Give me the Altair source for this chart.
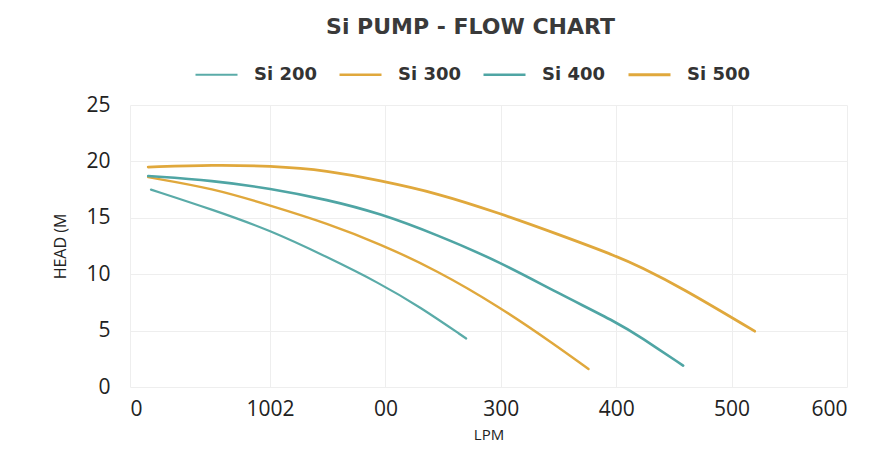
import altair as alt
import pandas as pd

series = ["Si 200", "Si 300", "Si 400", "Si 500"]
colors = ["#5aaba8", "#e0a83c", "#4fa5a4", "#e0a83c"]
widths = [2.2, 2.8, 3.0, 3.2]

si200_lpm = [15, 59.5, 100, 150, 195, 230, 270]
si200_head = [17.5, 15.7, 13.9, 11.5, 9.2, 7.1, 4.3]

si300_lpm = [13, 59.5, 100, 150, 195, 244.5, 299, 345.5, 376]
si300_head = [18.6, 17.6, 16.1, 14.5, 12.7, 10.35, 7.1, 3.85, 1.6]

si400_lpm = [13, 59.5, 100, 150, 195, 244.5, 299, 348, 403, 420.6, 458]
si400_head = [18.7, 18.3, 17.6, 16.6, 15.4, 13.5, 11.1, 8.4, 5.6, 4.45, 1.9]

si500_lpm = [13, 59.5, 100, 150, 195, 244.5, 299, 348, 403, 420.6, 455, 520]
si500_head = [19.5, 19.7, 19.6, 19.2, 18.3, 17.2, 15.4, 13.6, 11.5, 10.65, 8.9, 4.95]

x_ticks = [0, 100, 200, 300, 400, 500, 600]
y_ticks = [0, 5, 10, 15, 20, 25]

rows = []
for name, xs, ys in [
    ("Si 200", si200_lpm, si200_head),
    ("Si 300", si300_lpm, si300_head),
    ("Si 400", si400_lpm, si400_head),
    ("Si 500", si500_lpm, si500_head),
]:
    for i, (x, y) in enumerate(zip(xs, ys)):
        rows.append({"series": name, "lpm": x, "head": y, "order": i})
df = pd.DataFrame(rows)

chart = (
    alt.Chart(df)
    .mark_line(interpolate="basis", strokeCap="round")
    .encode(
        x=alt.X(
            "lpm:Q",
            scale=alt.Scale(domain=[0, 100, 600], range=[0, 140, 717], nice=False),
            axis=alt.Axis(
                values=x_ticks,
                title="LPM",
                labelExpr="datum.value == 100 ? '1002' : datum.value == 200 ? '00' : datum.label",
                labelFontSize=21,
                labelFont="Open Sans",
                labelColor="#222222",
                labelPadding=11,
                titleFontSize=15,
                titleFont="Open Sans",
                titleFontWeight="normal",
                titleColor="#222222",
                titlePadding=8,
                ticks=False,
                domain=False,
                gridColor="#eeeeee",
            ),
        ),
        y=alt.Y(
            "head:Q",
            scale=alt.Scale(domain=[0, 25], nice=False),
            axis=alt.Axis(
                values=y_ticks,
                title="HEAD (M",
                labelFontSize=21,
                labelFont="Open Sans",
                labelColor="#222222",
                labelPadding=20,
                titleFontSize=16,
                titleFont="Open Sans",
                titleFontWeight="normal",
                titleColor="#222222",
                titlePadding=17,
                ticks=False,
                domain=False,
                gridColor="#eeeeee",
            ),
        ),
        color=alt.Color(
            "series:N",
            scale=alt.Scale(domain=series, range=colors),
            legend=alt.Legend(
                title=None,
                orient="none",
                legendX=64,
                legendY=-53,
                direction="horizontal",
                columns=4,
                symbolType="stroke",
                symbolSize=1764,
                symbolStrokeWidth=3,
                labelFontSize=18,
                labelFont="DejaVu Sans",
                labelFontWeight="bold",
                labelColor="#333333",
                labelOffset=15,
                columnPadding=17,
            ),
        ),
        strokeWidth=alt.StrokeWidth(
            "series:N", scale=alt.Scale(domain=series, range=widths), legend=None
        ),
        order="order:Q",
    )
    .properties(
        width=717,
        height=282,
        autosize=alt.AutoSizeParams(type="none"),
        padding={"left": 122, "top": 97, "right": 20, "bottom": 60},
        title=alt.TitleParams(
            "Si PUMP - FLOW CHART",
            fontSize=22,
            font="DejaVu Sans",
            fontWeight="bold",
            color="#3a3a3a",
            anchor="middle",
            dx=-18,
            dy=24,
            baseline="alphabetic",
            offset=20,
        ),
    )
    .configure_view(stroke=None)
)

chart.save("out.html", embed_options={"renderer": "svg", "actions": False})
